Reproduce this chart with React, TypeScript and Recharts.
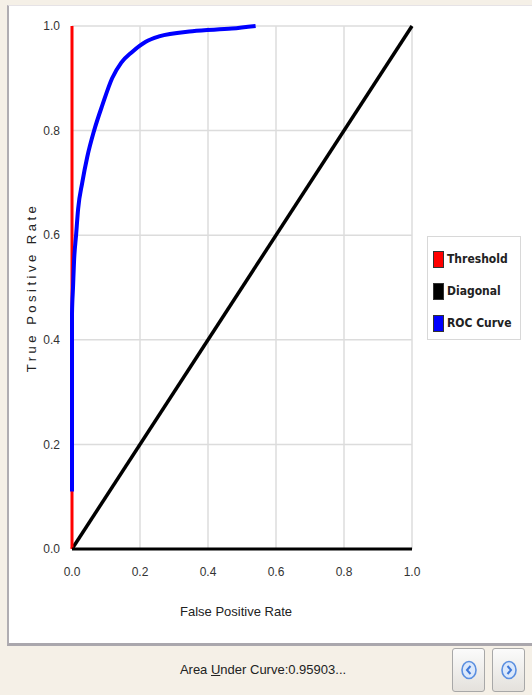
import { CartesianGrid, Legend, Line, LineChart, XAxis, YAxis } from "recharts";

// ROC curve (fpr, tpr)
export const rocData = [
  { fpr: 0, tpr: 0.11 },
  { fpr: 0, tpr: 0.45 },
  { fpr: 0.003, tpr: 0.5 },
  { fpr: 0.006, tpr: 0.55 },
  { fpr: 0.012, tpr: 0.6 },
  { fpr: 0.018, tpr: 0.65 },
  { fpr: 0.03, tpr: 0.7 },
  { fpr: 0.045, tpr: 0.75 },
  { fpr: 0.065, tpr: 0.8 },
  { fpr: 0.09, tpr: 0.85 },
  { fpr: 0.118, tpr: 0.9 },
  { fpr: 0.145, tpr: 0.93 },
  { fpr: 0.176, tpr: 0.95 },
  { fpr: 0.217, tpr: 0.97 },
  { fpr: 0.256, tpr: 0.98 },
  { fpr: 0.354, tpr: 0.99 },
  { fpr: 0.47, tpr: 0.995 },
  { fpr: 0.54, tpr: 1.0 },
];

export const thresholdData = [
  { fpr: 0, tpr: 0 },
  { fpr: 0, tpr: 1 },
];

export const diagonalData = [
  { fpr: 0, tpr: 0 },
  { fpr: 1, tpr: 1 },
];

const ticks = [0, 0.2, 0.4, 0.6, 0.8, 1.0];

const legendItems = [
  { name: "Threshold", color: "#ff0000" },
  { name: "Diagonal", color: "#000000" },
  { name: "ROC Curve", color: "#0000ff" },
];

const FONT = "'Liberation Sans', Arial, sans-serif";

const renderLegend = () => (
  <div
    style={{
      width: 94,
      height: 104,
      border: "1px solid #d8d8d8",
      boxSizing: "border-box",
      paddingTop: 12,
      paddingLeft: 5,
      fontFamily: "'DejaVu Sans Condensed', 'DejaVu Sans', sans-serif",
      fontSize: 12,
      fontWeight: "bold",
      color: "#222",
    }}
  >
    {legendItems.map((item) => (
      <div
        key={item.name}
        style={{ display: "flex", alignItems: "center", height: 20, marginBottom: 12 }}
      >
        <span
          style={{
            display: "inline-block",
            width: 11,
            height: 17,
            background: item.color,
            border: "1px solid #333",
            boxSizing: "border-box",
            marginRight: 3,
          }}
        />
        {item.name}
      </div>
    ))}
  </div>
);

const NavButton = ({ left, dir }: { left: number; dir: "l" | "r" }) => (
  <div
    style={{
      position: "absolute",
      left,
      top: 648,
      width: 33,
      height: 44,
      borderRadius: 3,
      border: "1px solid #a8a8a8",
      boxSizing: "border-box",
      background: "linear-gradient(#fbfbfb, #e4e1dc)",
      display: "flex",
      alignItems: "center",
      justifyContent: "center",
    }}
  >
    <svg width={18} height={20} viewBox="0 0 18 20">
      <ellipse cx={9} cy={10} rx={7} ry={8.5} fill="#dbe8fb" stroke="#5b8fe0" strokeWidth={1.6} />
      <path
        d={dir === "l" ? "M10.5 6 L7 10 L10.5 14" : "M7.5 6 L11 10 L7.5 14"}
        fill="none"
        stroke="#3f78d8"
        strokeWidth={2}
      />
    </svg>
  </div>
);

export default function App() {
  return (
    <div
      style={{
        position: "fixed",
        left: 0,
        top: 0,
        width: 532,
        height: 695,
        background: "#f5f0e7",
        overflow: "hidden",
      }}
    >
      <div
        style={{
          position: "absolute",
          left: 7,
          top: 5,
          width: 525,
          height: 641,
          background: "#fff",
          borderLeft: "2px solid #b0adb2",
          borderTop: "1px solid #e6e3e6",
          borderBottom: "3px solid #aaa7ad",
          boxSizing: "border-box",
        }}
      />
      <div style={{ position: "absolute", left: 0, top: 0 }}>
        <LineChart
          width={532}
          height={645}
          margin={{ top: 26, right: 26, bottom: 56, left: 12 }}
        >
          <CartesianGrid stroke="#dcdcdc" strokeWidth={1.5} />
          <XAxis
            type="number"
            dataKey="fpr"
            domain={[0, 1]}
            ticks={ticks}
            tickFormatter={(v: number) => v.toFixed(1)}
            axisLine={{ stroke: "#000", strokeWidth: 3 }}
            tickLine={false}
            tick={{ fill: "#333", fontSize: 12, fontFamily: FONT }}
            tickMargin={12}
            height={40}
            label={{
              value: "False Positive Rate",
              position: "insideBottom",
              offset: -27,
              fill: "#222",
              fontSize: 13,
              fontFamily: FONT,
              dx: -6,
            }}
          />
          <YAxis
            type="number"
            dataKey="tpr"
            domain={[0, 1]}
            ticks={ticks}
            tickFormatter={(v: number) => v.toFixed(1)}
            axisLine={false}
            tickLine={false}
            tick={{ fill: "#333", fontSize: 12, fontFamily: FONT }}
            tickMargin={6}
            width={60}
            label={{
              value: "True Positive Rate",
              angle: -90,
              position: "insideLeft",
              offset: 19,
              fill: "#222",
              fontSize: 13,
              fontFamily: FONT,
              style: { letterSpacing: 3.5, textAnchor: "middle" },
            }}
          />
          <Legend
            content={renderLegend}
            layout="vertical"
            align="right"
            verticalAlign="middle"
            wrapperStyle={{ position: "absolute", left: 427, top: 236, width: 94, height: 104 }}
          />
          <Line
            data={diagonalData}
            dataKey="tpr"
            stroke="#000"
            strokeWidth={3.5}
            dot={false}
            isAnimationActive={false}
          />
          <Line
            data={thresholdData}
            dataKey="tpr"
            stroke="#ff0000"
            strokeWidth={3}
            dot={false}
            isAnimationActive={false}
          />
          <Line
            data={rocData}
            dataKey="tpr"
            type="monotone"
            stroke="#0000ff"
            strokeWidth={4}
            dot={false}
            isAnimationActive={false}
          />
        </LineChart>
      </div>
      <div
        style={{
          position: "absolute",
          left: 120,
          top: 662,
          width: 286,
          textAlign: "center",
          fontFamily: FONT,
          fontSize: 13,
          color: "#222",
        }}
      >
        Area <u>U</u>nder Curve:0.95903...
      </div>
      <NavButton left={452} dir="l" />
      <NavButton left={492} dir="r" />
    </div>
  );
}
